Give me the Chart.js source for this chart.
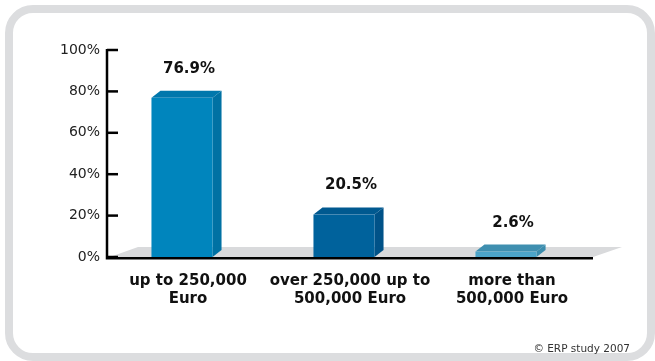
<!DOCTYPE html>
<html>
<head>
<meta charset="utf-8">
<script src="https://cdn.jsdelivr.net/npm/chart.js@4.4.1/dist/chart.umd.min.js"></script>
<style>
  html, body { margin: 0; padding: 0; background: #fff; width: 655px; height: 361px; overflow: hidden; }
  #frame { position: absolute; left: 5px; top: 5px; width: 634px; height: 340px; border: 8px solid #dcdddf; border-radius: 28px; box-sizing: content-box; }
  #wrap { position: absolute; left: 0; top: 0; width: 655px; height: 361px; }
  #credit { position: absolute; right: 25px; top: 342px; font-family: "DejaVu Sans", sans-serif; font-size: 10.5px; color: #333; white-space: nowrap; }
</style>
</head>
<body>
<div id="frame"></div>
<div id="wrap"><canvas id="c" width="655" height="361"></canvas></div>
<div id="credit">© ERP study 2007</div>
<script>
// ---- data ----
const categories = [["up to 250,000", "Euro"], ["over 250,000 up to", "500,000 Euro"], ["more than", "500,000 Euro"]];
const shares = [76.9, 20.5, 2.6];
const valueLabels = ["76.9%", "20.5%", "2.6%"];
const yTicks = [0, 20, 40, 60, 80, 100];

// ---- styles ----
const frontColors = ["#0085bd", "#00629c", "#4ca4c9"];
const sideColors = ["#0071a3", "#005288", "#3b8cad"];
const topColors = ["#0077ac", "#005990", "#3f8fb0"];
const DX = 9, DY = 7, SHIFT = 6;

const threeD = {
  id: 'threeD',
  beforeDatasetsDraw(chart) {
    const ctx = chart.ctx, a = chart.chartArea;
    // floor
    ctx.save();
    ctx.fillStyle = '#d9dadc';
    ctx.beginPath();
    ctx.moveTo(a.left + 3, a.bottom);
    ctx.lineTo(a.left + 31, a.bottom - 10);
    ctx.lineTo(a.right + 29, a.bottom - 10);
    ctx.lineTo(a.right, a.bottom);
    ctx.closePath();
    ctx.fill();
    ctx.restore();
  },
  afterDatasetsDraw(chart) {
    const ctx = chart.ctx, a = chart.chartArea;
    const meta = chart.getDatasetMeta(0);
    ctx.save();
    meta.data.forEach((bar, i) => {
      const w = bar.width;
      const l = bar.x - w / 2 - SHIFT, r = bar.x + w / 2 - SHIFT;
      const t = bar.y, b = bar.base;
      // side
      ctx.fillStyle = sideColors[i];
      ctx.beginPath();
      ctx.moveTo(r, b); ctx.lineTo(r, t); ctx.lineTo(r + DX, t - DY); ctx.lineTo(r + DX, b - DY); ctx.closePath();
      ctx.fill();
      // top
      ctx.fillStyle = topColors[i];
      ctx.beginPath();
      ctx.moveTo(l, t); ctx.lineTo(l + DX, t - DY); ctx.lineTo(r + DX, t - DY); ctx.lineTo(r, t); ctx.closePath();
      ctx.fill();
      // front
      ctx.fillStyle = frontColors[i];
      ctx.fillRect(l, t, w, b - t);
      // value label
      ctx.fillStyle = '#111';
      ctx.font = 'bold 15px "DejaVu Sans"';
      ctx.textAlign = 'center';
      ctx.textBaseline = 'middle';
      ctx.fillText(valueLabels[i], bar.x + 1, t - DY - 22);
    });
    // axes
    const ys = chart.scales.y;
    ctx.strokeStyle = '#000';
    ctx.lineWidth = 2.5;
    ctx.beginPath();
    ctx.moveTo(a.left, a.top - 1); ctx.lineTo(a.left, a.bottom + 1.25);
    ctx.lineTo(a.right, a.bottom + 1.25);
    ctx.stroke();
    yTicks.forEach(v => {
      const y = ys.getPixelForValue(v);
      ctx.beginPath();
      ctx.moveTo(a.left, y); ctx.lineTo(a.left + 11, y);
      ctx.stroke();
    });
    ctx.restore();
  }
};

new Chart(document.getElementById('c'), {
  type: 'bar',
  data: {
    labels: categories,
    datasets: [{
      data: shares,
      backgroundColor: 'rgba(0,0,0,0)',
      barPercentage: 0.377,
      categoryPercentage: 1.0
    }]
  },
  options: {
    responsive: false,
    animation: false,
    events: [],
    layout: { padding: { left: 0, right: 62, top: 50, bottom: 0 } },
    plugins: { legend: { display: false }, tooltip: { enabled: false } },
    scales: {
      x: {
        grid: { display: false, drawTicks: false },
        border: { display: false },
        ticks: {
          padding: 15,
          color: '#111',
          font: { family: 'DejaVu Sans', size: 15, weight: 'bold', lineHeight: 1.2 },
          maxRotation: 0, autoSkip: false
        },
        afterFit(s) { s.height = 104; }
      },
      y: {
        min: 0, max: 100,
        grid: { display: false, drawTicks: false },
        border: { display: false },
        afterBuildTicks(s) { s.ticks = yTicks.map(v => ({ value: v })); },
        ticks: {
          padding: 7,
          color: '#222',
          font: { family: 'DejaVu Sans', size: 14 },
          callback: v => v + '%'
        },
        afterFit(s) { s.width = 107; }
      }
    }
  },
  plugins: [threeD]
});
</script>
</body>
</html>
